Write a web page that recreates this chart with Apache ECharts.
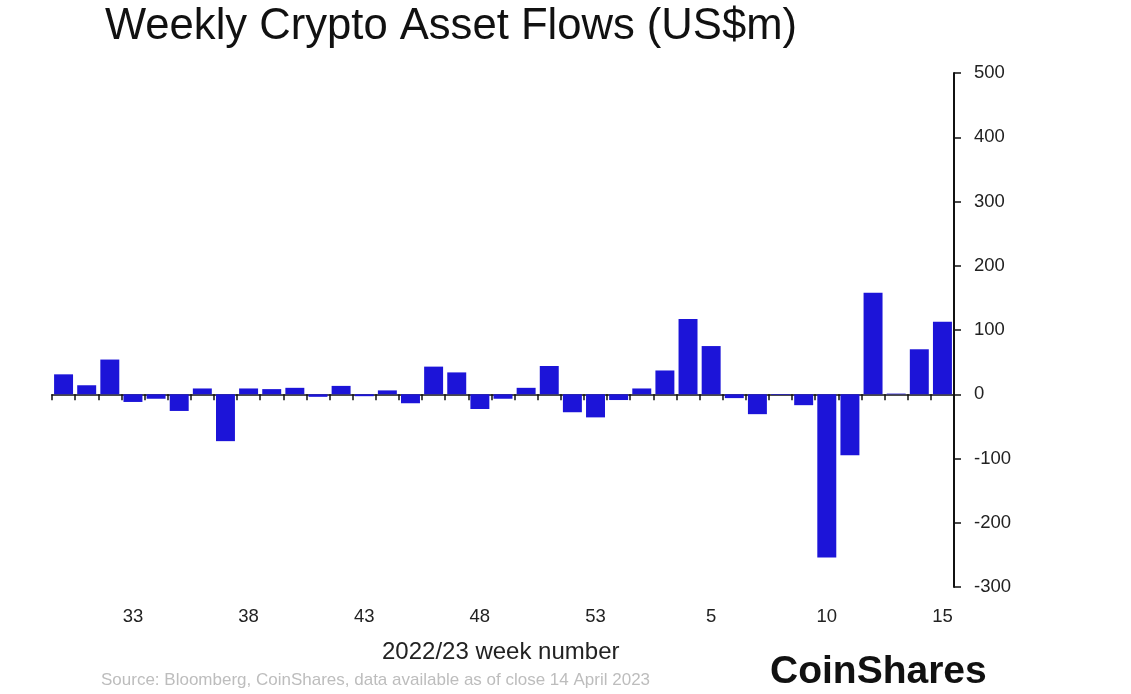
<!DOCTYPE html>
<html>
<head>
<meta charset="utf-8">
<script src="https://cdn.jsdelivr.net/npm/echarts@6/dist/echarts.min.js"></script>
<style>
html,body{margin:0;padding:0;background:#fff;}
#c{width:1131px;height:694px;}
</style>
</head>
<body>
<div id="c"></div>
<script>
const weeks = ['30','31','32','33','34','35','36','37','38','39','40','41','42','43','44','45','46','47','48','49','50','51','52','53','1','2','3','4','5','6','7','8','9','10','11','12','13','14','15'];
const flows = [31,14,54,-12,-7,-26,9,-73,9,8,10,-4,13,-3,6,-14,43,34,-23,-7,10,44,-28,-36,-9,9,37,117,75,-6,-31,-1,-17,-254,-95,158,1,70,113];
const yTicks = [-300,-200,-100,0,100,200,300,400,500];

const chart = echarts.init(document.getElementById('c'));
const font = 'Liberation Sans, Arial, sans-serif';
chart.setOption({
  animation:false,
  backgroundColor:'#fff',
  textStyle:{fontFamily:font},
  grid:{left:52,right:177,top:73,bottom:107},
  xAxis:[{
    type:'category',data:weeks,
    axisLine:{onZero:true,lineStyle:{color:'#111',width:1.5}},
    axisTick:{show:true,length:6,lineStyle:{color:'#111',width:1.5}},
    axisLabel:{show:false},
    splitLine:{show:false}
  },{
    type:'category',data:weeks,position:'bottom',
    axisLine:{show:false},axisTick:{show:false},
    axisLabel:{show:true,margin:20,fontSize:18.5,color:'#222',fontFamily:font,
      interval:function(i){return i>=3 && (i-3)%5===0;}},
    splitLine:{show:false}
  }],
  yAxis:{
    type:'value',position:'right',min:yTicks[0],max:yTicks[yTicks.length-1],interval:100,
    axisLine:{show:true,lineStyle:{color:'#111',width:2}},
    axisTick:{show:true,length:7,inside:false,lineStyle:{color:'#111',width:1.5}},
    axisLabel:{margin:20,fontSize:18.5,color:'#222',fontFamily:font},
    splitLine:{show:false}
  },
  series:[{
    type:'bar',data:flows,xAxisIndex:0,barCategoryGap:'18%',
    itemStyle:{color:'#1c14d8'}
  }],
  graphic:[
    {type:'text',left:105,top:5,style:{text:'Weekly Crypto Asset Flows (US$m)',fontSize:43.6,fill:'#111',fontFamily:font}},
    {type:'text',left:382,top:640,style:{text:'2022/23 week number',fontSize:24,fill:'#222',fontFamily:font}},
    {type:'text',left:101,top:672,style:{text:'Source: Bloomberg, CoinShares, data available as of close 14 April 2023',fontSize:17,fill:'#bdbdbd',fontFamily:font}},
    {type:'text',left:770,top:653,style:{text:'CoinShares',fontSize:39,fontWeight:'bold',fill:'#111',fontFamily:font}}
  ]
});
</script>
</body>
</html>
